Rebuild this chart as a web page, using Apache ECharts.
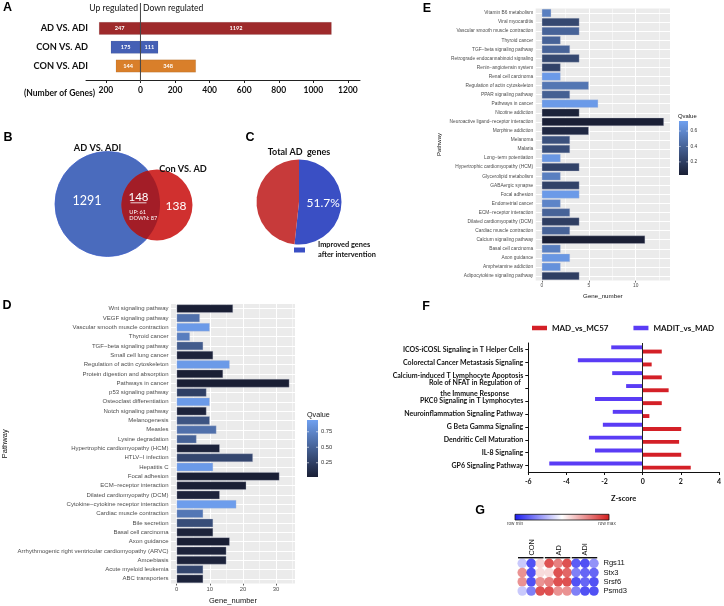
<!DOCTYPE html>
<html><head><meta charset="utf-8">
<script src="https://cdn.jsdelivr.net/npm/echarts@6/dist/echarts.min.js"></script>
<style>html,body{margin:0;padding:0;background:#fff}#c{width:724px;height:606px}</style>
</head><body><div id="c"></div>
<script>
// ---------- DATA ----------
// Panel A
const catsA = ['AD VS. ADI', 'CON VS. AD', 'CON VS. ADI'];
const upLabelsA = [247, 175, 144];
const downLabelsA = [1192, 111, 348];
const upBarA = [-240, -172, -143];      // bar extents as drawn
const downBarA = [1106, 103, 321];
const ticksA = [-200, 0, 200, 400, 600, 800, 1000, 1200];
// Panel B (Venn)
const vennSets = ['AD VS. ADI', 'Con VS. AD'];
const vennLeftOnly = 1291, vennOverlap = 148, vennRightOnly = 138, vennUp = 61, vennDown = 87;
// Panel C
const pieTitle = 'Total AD  genes';
const pieNames = ['Improved genes\nafter intervention', 'Other AD genes'];
const pieValues = [51.7, 48.3];
// Panel D
const catsD = ['Wnt signaling pathway','VEGF signaling pathway','Vascular smooth muscle contraction','Thyroid cancer','TGF\u2212beta signaling pathway','Small cell lung cancer','Regulation of actin cytoskeleton','Protein digestion and absorption','Pathways in cancer','p53 signaling pathway','Osteoclast differentiation','Notch signaling pathway','Melanogenesis','Measles','Lysine degradation','Hypertrophic cardiomyopathy (HCM)','HTLV\u2212I infection','Hepatitis C','Focal adhesion','ECM\u2212receptor interaction','Dilated cardiomyopathy (DCM)','Cytokine\u2212cytokine receptor interaction','Cardiac muscle contraction','Bile secretion','Basal cell carcinoma','Axon guidance','Arrhythmogenic right ventricular cardiomyopathy (ARVC)','Amoebiasis','Acute myeloid leukemia','ABC transporters'];
const geneD = [17,7,10,4,8,11,16,14,34,9,10,9,10,12,6,13,23,11,31,21,13,18,8,11,11,16,15,15,8,8];
const qD = [0.01,0.6,0.9,0.7,0.45,0.05,0.9,0.02,0.01,0.25,0.9,0.05,0.4,0.6,0.5,0.05,0.3,0.9,0.01,0.02,0.05,0.92,0.65,0.35,0.05,0.02,0.05,0.05,0.3,0.05];
const ticksD = [0, 10, 20, 30];
const qTicksD = [0.25, 0.50, 0.75];
// Panel E
const catsE = ['Vitamin B6 metabolism','Viral myocarditis','Vascular smooth muscle contraction','Thyroid cancer','TGF\u2212beta signaling pathway','Retrograde endocannabinoid signaling','Renin\u2212angiotensin system','Renal cell carcinoma','Regulation of actin cytoskeleton','PPAR signaling pathway','Pathways in cancer','Nicotine addiction','Neuroactive ligand\u2212receptor interaction','Morphine addiction','Melanoma','Malaria','Long\u2212term potentiation','Hypertrophic cardiomyopathy (HCM)','Glycerolipid metabolism','GABAergic synapse','Focal adhesion','Endometrial cancer','ECM\u2212receptor interaction','Dilated cardiomyopathy (DCM)','Cardiac muscle contraction','Calcium signaling pathway','Basal cell carcinoma','Axon guidance','Amphetamine addiction','Adipocytokine signaling pathway'];
const geneE = [1,4,4,2,3,4,2,2,5,3,6,4,13,5,3,3,2,4,2,4,4,2,3,4,3,11,2,3,2,4];
const qE = [0.55,0.25,0.4,0.4,0.4,0.25,0.22,0.7,0.5,0.38,0.7,0.05,0.03,0.08,0.3,0.28,0.68,0.22,0.55,0.22,0.7,0.58,0.4,0.2,0.4,0.02,0.55,0.68,0.65,0.2];
const ticksE = [0, 5, 10];
const qTicksE = [0.2, 0.4, 0.6];
// Panel F
const catsF = ['ICOS-iCOSL Signaling in T Helper Cells','Colorectal Cancer Metastasis Signaling','Calcium-induced T Lymphocyte Apoptosis','Role of NFAT in Regulation of\nthe Immune Response','PKC\u03b8 Signaling in T Lymphocytes','Neuroinflammation Signaling Pathway','G Beta Gamma Signaling','Dendritic Cell Maturation','IL-8 Signaling','GP6 Signaling Pathway'];
const madMc57 = [1.0, 0.47, 1.0, 1.36, 1.0, 0.35, 2.02, 1.91, 2.02, 2.52];
const maditMad = [-1.65, -3.4, -1.6, -0.87, -2.5, -1.57, -2.09, -2.82, -2.5, -4.9];
// Panel G
const genesG = ['Rgs11', 'Stx3', 'Srsf6', 'Psmd3'];
const groupsG = ['CON', 'AD', 'ADI'];
const heatG = [
  [0.35, 0.02, 0.62, 0.98, 0.85, 0.98, 0.05, 0.02, 0.2],
  [0.8, 0.02, 0.6, 0.6, 0.98, 0.92, 0.15, 0.08, 0.08],
  [0.8, 0.02, 0.8, 0.85, 0.98, 0.98, 0.02, 0.08, 0.02],
  [0.35, 0.15, 0.98, 0.98, 0.8, 0.8, 0.15, 0.02, 0.02]
];

// ---------- STYLE ----------
const FA = 'Lato, "Liberation Sans", sans-serif';
const FR = '"Liberation Sans", Arial, sans-serif';
const colorsA = ['#9e2a2b', '#4560b5', '#d97f2a'];
const qLow = '#1a1f35', qHigh = '#6fa0f0';
const redF = '#d42027', blueF = '#5a3cf5';
const heatColors = ['#1c1cf0', '#ffffff', '#d41c1c'];

const chart = echarts.init(document.getElementById('c'), null, {renderer: 'canvas'});

function gridLines(cats, xs, majors) {
  return xs.map(v => ({xAxis: v, lineStyle: {color: '#fff', width: majors.includes(v) ? 1 : 0.5, type: 'solid'}}))
    .concat(cats.map((c, i) => ({yAxis: i, lineStyle: {color: '#fff', width: 1, type: 'solid'}})));
}

const option = {
  animation: false,
  backgroundColor: '#fff',
  grid: [
    {left: 86, top: 19, width: 274, height: 56.4},                 // A
    {left: 0, top: 105, width: 360, height: 175},                  // B venn (hidden)
    {left: 170, top: 304, width: 125, height: 282.5, show: true, backgroundColor: '#ebebeb', borderWidth: 0}, // D
    {left: 535.7, top: 8.5, width: 134.3, height: 272, show: true, backgroundColor: '#ebebeb', borderWidth: 0}, // E
    {left: 528.3, top: 343, width: 193.4, height: 129},            // F
    {left: 517.8, top: 558.7, width: 80.6, height: 36.9}           // G
  ],
  xAxis: [
    {gridIndex: 0, type: 'value', min: -315, max: 1270, offset: 4.6,
     axisLine: {show: true, lineStyle: {color: '#222', width: 1}},
     axisTick: {show: true, length: 3, customValues: ticksA, lineStyle: {color: '#222'}},
     axisLabel: {customValues: ticksA, formatter: v => Math.abs(v), fontFamily: FA, fontWeight: 'bold', fontSize: 8.5, color: '#111', margin: 6},
     splitLine: {show: false}},
    {gridIndex: 1, type: 'value', min: 0, max: 360, show: false},
    {gridIndex: 2, type: 'value', min: -1.7, max: 35.7,
     axisLine: {show: false},
     axisTick: {show: true, length: 2, customValues: ticksD, lineStyle: {color: '#333', width: 0.8}},
     axisLabel: {customValues: ticksD, fontFamily: FR, fontSize: 5.9, color: '#4d4d4d', margin: 2.5},
     splitLine: {show: false},
     name: 'Gene_number', nameLocation: 'middle', nameGap: 13.5, nameTextStyle: {fontFamily: FR, fontSize: 7.5, color: '#111'}},
    {gridIndex: 3, type: 'value', min: -0.65, max: 13.65,
     axisLine: {show: false},
     axisTick: {show: true, length: 2, customValues: ticksE, lineStyle: {color: '#333', width: 0.7}},
     axisLabel: {customValues: ticksE, fontFamily: FR, fontSize: 4.8, color: '#4d4d4d', margin: 2.5},
     splitLine: {show: false},
     name: 'Gene_number', nameLocation: 'middle', nameGap: 13, nameTextStyle: {fontFamily: FR, fontSize: 6.2, color: '#111'}},
    {gridIndex: 4, type: 'value', min: -6, max: 4, interval: 2,
     axisLine: {show: true, onZero: false, lineStyle: {color: '#111', width: 1}},
     axisTick: {show: true, length: 3, lineStyle: {color: '#111'}},
     axisLabel: {fontFamily: FA, fontWeight: 'bold', fontSize: 7, color: '#111', margin: 6},
     splitLine: {show: false},
     name: 'Z-score', nameLocation: 'middle', nameGap: 23, nameTextStyle: {fontFamily: FA, fontWeight: 'bold', fontSize: 7.5, color: '#111'}},
    {gridIndex: 5, type: 'category', data: heatG[0].map((v, i) => i), show: false}
  ],
  yAxis: [
    {gridIndex: 0, type: 'category', inverse: true, data: catsA,
     axisLine: {show: false}, axisTick: {show: false},
     axisLabel: {fontFamily: FA, fontWeight: 'bold', fontSize: 9.2, color: '#111', margin: -2}},
    {gridIndex: 1, type: 'value', min: 0, max: 175, inverse: true, show: false},
    {gridIndex: 2, type: 'category', inverse: true, data: catsD,
     axisLine: {show: false},
     axisTick: {show: true, alignWithLabel: true, length: 2, lineStyle: {color: '#333', width: 0.8}},
     axisLabel: {fontFamily: FR, fontSize: 6.0, color: '#4d4d4d', margin: 2.5, interval: 0},
     name: 'Pathway', nameLocation: 'middle', nameGap: 162, nameRotate: 90, nameTextStyle: {fontFamily: FR, fontSize: 7.5, color: '#111'}},
    {gridIndex: 3, type: 'category', inverse: true, data: catsE,
     axisLine: {show: false},
     axisTick: {show: true, alignWithLabel: true, length: 2, lineStyle: {color: '#333', width: 0.7}},
     axisLabel: {fontFamily: FR, fontSize: 4.8, color: '#4d4d4d', margin: 2.5, interval: 0},
     name: 'Pathway', nameLocation: 'middle', nameGap: 93, nameRotate: 90, nameTextStyle: {fontFamily: FR, fontSize: 6, color: '#111'}},
    {gridIndex: 4, type: 'category', inverse: true, data: catsF,
     axisLine: {show: true, onZero: false, lineStyle: {color: '#111', width: 1}},
     axisTick: {show: true, alignWithLabel: true, length: 3, lineStyle: {color: '#111'}},
     axisLabel: {fontFamily: FA, fontWeight: 'bold', fontSize: 7, color: '#111', margin: 5, interval: 0,
       formatter: v => v.indexOf('\n') >= 0 ? v.split('\n').map(s => '{c|' + s + '}').join('\n') : v,
       rich: {c: {width: 97, align: 'center', fontFamily: FA, fontWeight: 'bold', fontSize: 7, color: '#111', lineHeight: 10.5}}}},
    {gridIndex: 5, type: 'category', inverse: true, data: genesG, position: 'right',
     axisLine: {show: false}, axisTick: {show: false},
     axisLabel: {fontFamily: FR, fontSize: 7.6, color: '#111', margin: 5, interval: 0}}
  ],
  visualMap: [
    {type: 'continuous', show: false, seriesIndex: 5, dimension: 2, min: 0.02, max: 0.94, inRange: {color: [qLow, qHigh]}},
    {type: 'continuous', show: false, seriesIndex: 7, dimension: 2, min: 0.03, max: 0.73, inRange: {color: [qLow, qHigh]}},
    {type: 'continuous', show: false, seriesIndex: 10, dimension: 2, min: 0, max: 1, inRange: {color: heatColors}}
  ],
  legend: [
    {data: [pieNames[0]], left: 294, top: 240, padding: 0, itemWidth: 11, itemHeight: 5, icon: 'rect', selectedMode: false,
     textStyle: {fontFamily: FA, fontWeight: 'bold', fontSize: 7.4, lineHeight: 10, color: '#111', padding: [0, 0, 0, 8]}},
    {data: ['MAD_vs_MC57', 'MADIT_vs_MAD'], left: 532, top: 324, padding: 0, itemWidth: 15, itemHeight: 4.5, itemGap: 25, icon: 'rect', selectedMode: false,
     textStyle: {fontFamily: FA, fontWeight: 'bold', fontSize: 8, color: '#111'}}
  ],
  series: [
    // 0,1: Panel A
    {type: 'bar', name: 'Up', xAxisIndex: 0, yAxisIndex: 0, stack: 'a', barWidth: 12.8,
     data: upBarA.map((v, i) => ({value: v, itemStyle: {color: colorsA[i]}})),
     itemStyle: {borderColor: 'rgba(0,0,0,0.15)', borderWidth: 0.5},
     label: {show: true, position: 'inside', formatter: p => upLabelsA[p.dataIndex], color: '#fff', fontFamily: FA, fontWeight: 'bold', fontSize: 5.6}},
    {type: 'bar', name: 'Down', xAxisIndex: 0, yAxisIndex: 0, stack: 'a', barWidth: 12.8,
     data: downBarA.map((v, i) => ({value: v, itemStyle: {color: colorsA[i]}})),
     itemStyle: {borderColor: 'rgba(0,0,0,0.15)', borderWidth: 0.5},
     label: {show: true, position: 'inside', formatter: p => downLabelsA[p.dataIndex], color: '#fff', fontFamily: FA, fontWeight: 'bold', fontSize: 5.6}},
    // 2: Panel B venn
    {type: 'custom', xAxisIndex: 1, yAxisIndex: 1, silent: true, data: [[0]],
     renderItem: function (params, api) {
       const c1 = api.coord([107.5, 99]), c2 = api.coord([157, 100]);
       const r1 = api.size([52.5, 0])[0], r2 = api.size([35.5, 0])[0];
       const dx = c2[0] - c1[0], dy = c2[1] - c1[1], d = Math.hypot(dx, dy);
       const a = (d * d + r1 * r1 - r2 * r2) / (2 * d), h = Math.sqrt(r1 * r1 - a * a);
       const px = c1[0] + a * dx / d, py = c1[1] + a * dy / d;
       const pA = [px - h * dy / d, py + h * dx / d], pB = [px + h * dy / d, py - h * dx / d];
       const ang = (c, p) => Math.atan2(p[1] - c[1], p[0] - c[0]);
       const pts = [];
       function arc(c, r, s, e, n) { for (let k = 0; k <= n; k++) { const t = s + (e - s) * k / n; pts.push([c[0] + r * Math.cos(t), c[1] + r * Math.sin(t)]); } }
       let s1 = ang(c1, pB), e1 = ang(c1, pA); if (e1 < s1) e1 += 2 * Math.PI;
       if (e1 - s1 > Math.PI) { const t = s1; s1 = e1; e1 = t + 2 * Math.PI; }
       arc(c1, r1, s1, e1, 40);
       let s2 = ang(c2, pA), e2 = ang(c2, pB); if (e2 < s2) e2 += 2 * Math.PI;
       arc(c2, r2, s2, e2, 40);
       return {type: 'group', children: [
         {type: 'circle', shape: {cx: c1[0], cy: c1[1], r: r1}, style: {fill: '#4a6bbd', stroke: '#3f5fc8', lineWidth: 0.8}},
         {type: 'circle', shape: {cx: c2[0], cy: c2[1], r: r2}, style: {fill: '#d0302f'}},
         {type: 'polygon', shape: {points: pts}, style: {fill: '#a31d27'}}
       ]};
     }},
    // 3: Panel C pie
    {type: 'pie', center: [299, 202], radius: 42.5, startAngle: 90, clockwise: true, silent: true,
     data: [
       {name: pieNames[0], value: pieValues[0], itemStyle: {color: '#3a4fc4'}},
       {name: pieNames[1], value: pieValues[1], itemStyle: {color: '#c73a3a'}, label: {show: false}}
     ],
     label: {show: true, position: 'inside', formatter: p => p.value + '%', color: '#fff', fontFamily: FA, fontSize: 12},
     labelLine: {show: false}, emphasis: {disabled: true}},
    // 4: D grid lines
    {type: 'line', xAxisIndex: 2, yAxisIndex: 2, data: [], z: 1, silent: true,
     markLine: {z: 1, silent: true, symbol: ['none', 'none'], label: {show: false}, animation: false,
       data: gridLines(catsD, [0, 5, 10, 15, 20, 25, 30, 35], ticksD)}},
    // 5: D bars
    {type: 'bar', xAxisIndex: 2, yAxisIndex: 2, z: 3, barCategoryGap: '10%', encode: {x: 0, y: 1},
     data: geneD.map((v, i) => [v, i, qD[i]]),
     itemStyle: {borderColor: 'rgba(190,195,210,0.6)', borderWidth: 0.5}},
    // 6: E grid lines
    {type: 'line', xAxisIndex: 3, yAxisIndex: 3, data: [], z: 1, silent: true,
     markLine: {z: 1, silent: true, symbol: ['none', 'none'], label: {show: false}, animation: false,
       data: gridLines(catsE, [0, 2.5, 5, 7.5, 10, 12.5], ticksE)}},
    // 7: E bars
    {type: 'bar', xAxisIndex: 3, yAxisIndex: 3, z: 3, barCategoryGap: '10%', encode: {x: 0, y: 1},
     data: geneE.map((v, i) => [v, i, qE[i]]),
     itemStyle: {borderColor: 'rgba(190,195,210,0.6)', borderWidth: 0.5}},
    // 8,9: F bars
    {type: 'bar', name: 'MADIT_vs_MAD', xAxisIndex: 4, yAxisIndex: 4, barWidth: 3.9, barGap: '8%', data: maditMad, itemStyle: {color: blueF}},
    {type: 'bar', name: 'MAD_vs_MC57', xAxisIndex: 4, yAxisIndex: 4, barWidth: 3.9, barGap: '8%', data: madMc57, itemStyle: {color: redF},
     markLine: {silent: true, symbol: ['none', 'none'], label: {show: false}, animation: false,
       data: [{xAxis: 0, lineStyle: {color: '#222', width: 1, type: 'solid'}}]}},
    // 10: G heat circles
    {type: 'scatter', xAxisIndex: 5, yAxisIndex: 5, symbol: 'circle', symbolSize: 9.6, silent: true,
     data: heatG.flatMap((row, r) => row.map((v, c) => [c, r, v]))}
  ]
};
chart.setOption(option);

// ---------- annotations ----------
function T(text, x, y, size, o) {
  o = o || {};
  return {type: 'text', x: x, y: y, rotation: o.rot || 0, silent: true, z: 50,
    style: {text: String(text), font: (o.bold ? 'bold ' : '') + size + 'px ' + (o.fam || FA), fill: o.color || '#111',
      align: o.align || 'center', verticalAlign: o.va || 'middle'}};
}
function L(x1, y1, x2, y2, w, c) {
  return {type: 'line', silent: true, z: 50, shape: {x1, y1, x2, y2}, style: {stroke: c || '#111', lineWidth: w || 1}};
}
const g = [];
// panel letters
[['A', 7.5, 7.5], ['B', 8, 137.5], ['C', 250, 137.5], ['D', 7, 306], ['E', 427, 9], ['F', 426, 307], ['G', 480, 510.5]]
  .forEach(p => g.push(T(p[0], p[1], p[2], 12.5, {bold: true, fam: FR, color: '#000'})));
// A
const x0 = chart.convertToPixel({xAxisIndex: 0}, 0);
g.push(L(x0, 3, x0, 82, 1, '#444'));
g.push(T('Up regulated', x0 - 2.5, 8.5, 8.6, {align: 'right'}));
g.push(T('Down regulated', x0 + 2.5, 8.5, 8.6, {align: 'left'}));
g.push(T('(Number of Genes)', 95, 93, 8.5, {bold: true, align: 'right'}));
// B
g.push(T(vennSets[0], 97.5, 148, 9.2, {bold: true}));
g.push(T(vennSets[1], 183, 169, 9.2, {bold: true}));
g.push(T(vennLeftOnly, 87, 201, 12.5, {color: '#fff'}));
g.push(T(vennOverlap, 138.5, 197, 11.5, {color: '#fff'}));
g.push(L(130.5, 202.8, 146.5, 202.8, 0.8, '#fff'));
g.push(T('UP: ' + vennUp, 129.3, 212.3, 5.6, {color: '#fff', align: 'left'}));
g.push(T('DOWN: ' + vennDown, 129.3, 218.5, 5.6, {color: '#fff', align: 'left'}));
g.push(T(vennRightOnly, 176, 206, 12, {color: '#fff'}));
// C
g.push(T(pieTitle, 299, 152, 9, {bold: true}));
// D colorbar
(function () {
  const top = 420, h = 57, x = 307, w = 11, qmin = 0.02, qmax = 0.94;
  g.push({type: 'rect', silent: true, z: 50, shape: {x, y: top, width: w, height: h},
    style: {fill: new echarts.graphic.LinearGradient(0, 0, 0, 1, [{offset: 0, color: qHigh}, {offset: 1, color: qLow}])}});
  qTicksD.forEach(q => {
    const y = top + h - (q - qmin) / (qmax - qmin) * h;
    g.push(L(x, y, x + 2, y, 0.6, '#fff')); g.push(L(x + w - 2, y, x + w, y, 0.6, '#fff'));
    g.push(T(q.toFixed(2), x + w + 3, y, 5.8, {fam: FR, align: 'left', color: '#333'}));
  });
  g.push(T('Qvalue', x, top - 4.5, 7.2, {fam: FR, align: 'left'}));
})();
// E colorbar
(function () {
  const top = 121, h = 54, x = 679, w = 9, qmin = 0.03, qmax = 0.73;
  g.push({type: 'rect', silent: true, z: 50, shape: {x, y: top, width: w, height: h},
    style: {fill: new echarts.graphic.LinearGradient(0, 0, 0, 1, [{offset: 0, color: qHigh}, {offset: 1, color: qLow}])}});
  qTicksE.forEach(q => {
    const y = top + h - (q - qmin) / (qmax - qmin) * h;
    g.push(L(x, y, x + 1.8, y, 0.5, '#fff')); g.push(L(x + w - 1.8, y, x + w, y, 0.5, '#fff'));
    g.push(T(q.toFixed(1), x + w + 2.5, y, 4.8, {fam: FR, align: 'left', color: '#333'}));
  });
  g.push(T('Qvalue', x - 1, top - 5, 5.9, {fam: FR, align: 'left'}));
})();
// G colour scale and group labels
g.push({type: 'rect', silent: true, z: 50, shape: {x: 515, y: 514.3, width: 94, height: 5.7},
  style: {fill: new echarts.graphic.LinearGradient(0, 0, 1, 0, [{offset: 0, color: heatColors[0]}, {offset: 0.5, color: heatColors[1]}, {offset: 1, color: heatColors[2]}]), stroke: '#111', lineWidth: 0.8}});
g.push(T('row min', 515, 523.6, 4.6, {fam: FR, color: '#444'}));
g.push(T('row max', 607, 523.6, 4.6, {fam: FR, color: '#444'}));
groupsG.forEach((name, k) => {
  const xa = chart.convertToPixel({xAxisIndex: 5}, k * 3);
  const xb = chart.convertToPixel({xAxisIndex: 5}, k * 3 + 2);
  const xm = chart.convertToPixel({xAxisIndex: 5}, k * 3 + 1);
  g.push(L(xa - 4.3, 557.7, xb + 3.3, 557.7, 1.4, '#111'));
  g.push(T(name, xm + 0.5, 555.5, 7.4, {fam: FR, rot: Math.PI / 2, align: 'left'}));
});
chart.setOption({graphic: g});
</script>
</body></html>
